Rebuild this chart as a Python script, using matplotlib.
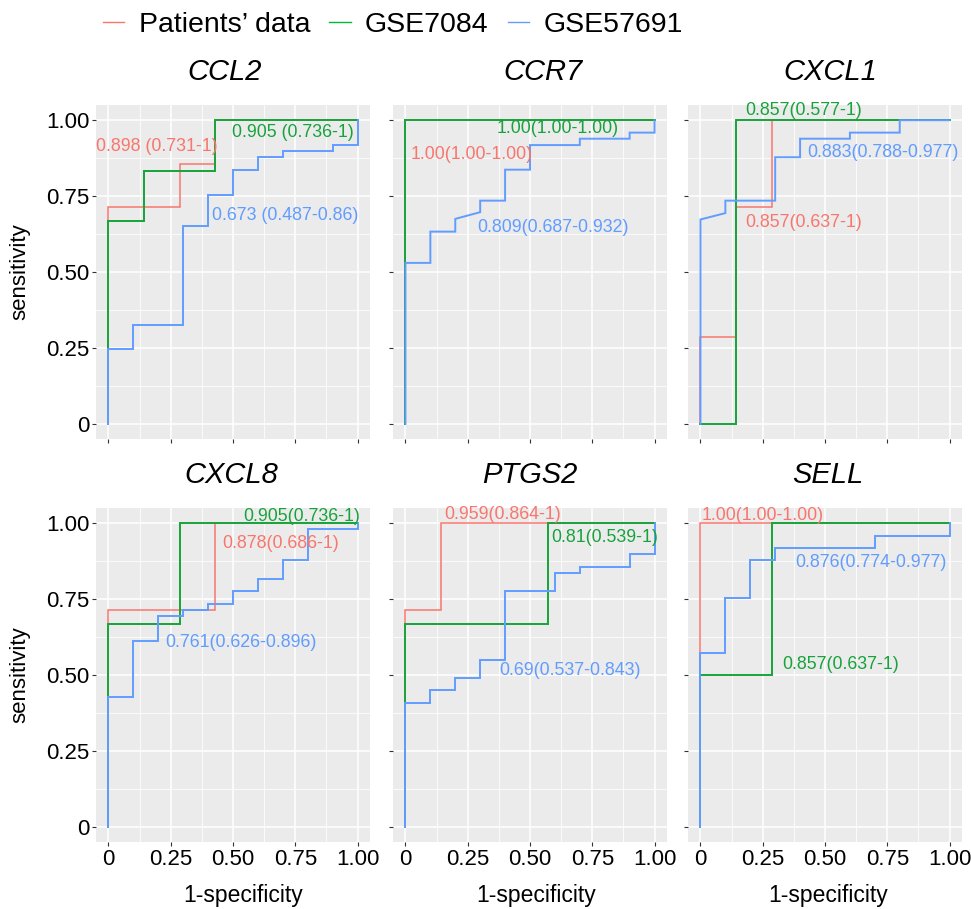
import matplotlib
matplotlib.use('Agg')
import matplotlib.pyplot as plt
from matplotlib.lines import Line2D
from matplotlib.ticker import FixedLocator

plt.rcParams['font.family'] = ['Liberation Sans', 'DejaVu Sans']

# --- data (ROC vertices: fpr, tpr) ---
genes = ['CCL2', 'CCR7', 'CXCL1', 'CXCL8', 'PTGS2', 'SELL']
datasets = ['Patients\u2019 data', 'GSE7084', 'GSE57691']

ccl2_patients = ([0, 0, 0.286, 0.286, 0.429, 0.429, 1], [0, 0.714, 0.714, 0.857, 0.857, 1, 1])
ccl2_gse7084 = ([0, 0, 0.143, 0.143, 0.429, 0.429, 1], [0, 0.667, 0.667, 0.833, 0.833, 1, 1])
ccl2_gse57691 = ([0, 0, 0.1, 0.1, 0.3, 0.3, 0.4, 0.4, 0.5, 0.5, 0.6, 0.6, 0.7, 0.7, 0.9, 0.9, 1, 1],
                 [0, 0.245, 0.245, 0.327, 0.327, 0.653, 0.653, 0.755, 0.755, 0.837, 0.837, 0.878, 0.878,
                  0.898, 0.898, 0.918, 0.918, 1])

ccr7_patients = ([0, 0, 1], [0, 1, 1])
ccr7_gse7084 = ([0, 0, 1], [0, 1, 1])
ccr7_gse57691 = ([0, 0, 0.1, 0.1, 0.2, 0.2, 0.3, 0.3, 0.4, 0.4, 0.5, 0.5, 0.7, 0.7, 0.9, 0.9, 1, 1],
                 [0, 0.53, 0.53, 0.633, 0.633, 0.675, 0.697, 0.735, 0.735, 0.837, 0.837, 0.918, 0.918,
                  0.939, 0.939, 0.959, 0.959, 1])

cxcl1_patients = ([0, 0, 0.143, 0.143, 0.286, 0.286, 1], [0, 0.286, 0.286, 0.714, 0.714, 1, 1])
cxcl1_gse7084 = ([0, 0.143, 0.143, 1], [0, 0, 1, 1])
cxcl1_gse57691 = ([0, 0, 0.1, 0.1, 0.3, 0.3, 0.4, 0.4, 0.6, 0.6, 0.8, 0.8, 1],
                  [0, 0.673, 0.694, 0.735, 0.735, 0.878, 0.878, 0.939, 0.939, 0.959, 0.959, 1, 1])

cxcl8_patients = ([0, 0, 0.429, 0.429, 1], [0, 0.714, 0.714, 1, 1])
cxcl8_gse7084 = ([0, 0, 0.286, 0.286, 1], [0, 0.667, 0.667, 1, 1])
cxcl8_gse57691 = ([0, 0, 0.1, 0.1, 0.2, 0.2, 0.3, 0.3, 0.4, 0.4, 0.5, 0.5, 0.6, 0.6, 0.7, 0.7, 0.8, 0.8, 1, 1],
                  [0, 0.429, 0.429, 0.612, 0.612, 0.694, 0.694, 0.714, 0.714, 0.735, 0.735, 0.776, 0.776,
                   0.816, 0.816, 0.878, 0.878, 0.98, 0.98, 1])

ptgs2_patients = ([0, 0, 0.143, 0.143, 1], [0, 0.714, 0.714, 1, 1])
ptgs2_gse7084 = ([0, 0, 0.571, 0.571, 1], [0, 0.667, 0.667, 1, 1])
ptgs2_gse57691 = ([0, 0, 0.1, 0.1, 0.2, 0.2, 0.3, 0.3, 0.4, 0.4, 0.6, 0.6, 0.7, 0.7, 0.9, 0.9, 1, 1],
                  [0, 0.408, 0.408, 0.449, 0.449, 0.49, 0.49, 0.551, 0.551, 0.776, 0.776, 0.837, 0.837,
                   0.857, 0.857, 0.898, 0.898, 1])

sell_patients = ([0, 0, 1], [0, 1, 1])
sell_gse7084 = ([0, 0, 0.286, 0.286, 1], [0, 0.5, 0.5, 1, 1])
sell_gse57691 = ([0, 0, 0.1, 0.1, 0.2, 0.2, 0.3, 0.3, 0.7, 0.7, 1, 1],
                 [0, 0.571, 0.571, 0.755, 0.755, 0.878, 0.878, 0.918, 0.918, 0.959, 0.959, 1])

# AUC (95% CI) labels, in dataset order
patients_auc = ['0.898 (0.731-1)', '1.00(1.00-1.00)', '0.857(0.637-1)',
                '0.878(0.686-1)', '0.959(0.864-1)', '1.00(1.00-1.00)']
gse7084_auc = ['0.905 (0.736-1)', '1.00(1.00-1.00)', '0.857(0.577-1)',
               '0.905(0.736-1)', '0.81(0.539-1)', '0.857(0.637-1)']
gse57691_auc = ['0.673 (0.487-0.86)', '0.809(0.687-0.932)', '0.883(0.788-0.977)',
                '0.761(0.626-0.896)', '0.69(0.537-0.843)', '0.876(0.774-0.977)']

tick_values = [0, 0.25, 0.5, 0.75, 1.0]
tick_labels = ['0', '0.25', '0.50', '0.75', '1.00']

curves = {
    'CCL2': [ccl2_patients, ccl2_gse7084, ccl2_gse57691],
    'CCR7': [ccr7_patients, ccr7_gse7084, ccr7_gse57691],
    'CXCL1': [cxcl1_patients, cxcl1_gse7084, cxcl1_gse57691],
    'CXCL8': [cxcl8_patients, cxcl8_gse7084, cxcl8_gse57691],
    'PTGS2': [ptgs2_patients, ptgs2_gse7084, ptgs2_gse57691],
    'SELL': [sell_patients, sell_gse7084, sell_gse57691],
}

# --- styling / layout ---
LINE_COLORS = ['#F8766D', '#17A33B', '#619CFF']
LEGEND_COLORS = ['#F8766D', '#00BA38', '#619CFF']
PANEL_BG = '#EBEBEB'
W, H = 971, 909

# label anchor (left edge, vertical centre) in data units, per gene / dataset
label_pos = {
    'CCL2': [(-0.052, 0.912), (0.494, 0.961), (0.417, 0.686)],
    'CCR7': [(0.02, 0.887), (0.366, 0.972), (0.29, 0.648)],
    'CXCL1': [(0.18, 0.664), (0.18, 1.031), (0.43, 0.893)],
    'CXCL8': [(0.458, 0.934), (0.541, 1.022), (0.23, 0.608)],
    'PTGS2': [(0.157, 1.03), (0.587, 0.954), (0.377, 0.515)],
    'SELL': [(0.003, 1.024), (0.328, 0.533), (0.381, 0.870)],
}
col_left = [96, 393, 688]
col_width = 274
row_top = [105, 508]
row_height = 334
title_x = [[225, 543, 830], [231, 530, 828]]
title_baseline = [80, 483]
xlabel_x = [243, 536, 828]


def style_panel(ax, show_x, show_y):
    ax.set_facecolor(PANEL_BG)
    for s in ax.spines.values():
        s.set_visible(False)
    ax.set_xlim(-0.05, 1.05)
    ax.set_ylim(-0.05, 1.05)
    ax.xaxis.set_major_locator(FixedLocator(tick_values))
    ax.yaxis.set_major_locator(FixedLocator(tick_values))
    ax.xaxis.set_minor_locator(FixedLocator([0.125, 0.375, 0.625, 0.875]))
    ax.yaxis.set_minor_locator(FixedLocator([0.125, 0.375, 0.625, 0.875]))
    ax.set_xticklabels(tick_labels if show_x else [])
    ax.set_yticklabels(tick_labels if show_y else [])
    ax.grid(which='major', color='white', linewidth=1.1)
    ax.grid(which='minor', color='white', linewidth=0.55)
    ax.set_axisbelow(True)
    ax.tick_params(which='major', length=2.7, width=0.8, color='#333333',
                   labelsize=16, labelcolor='black', pad=2)
    ax.tick_params(which='minor', length=0)


def main():
    fig = plt.figure(figsize=(W / 100, H / 100), dpi=100)

    for i, gene in enumerate(genes):
        r, c = divmod(i, 3)
        rect = [col_left[c] / W, 1 - (row_top[r] + row_height) / H, col_width / W, row_height / H]
        ax = fig.add_axes(rect)
        style_panel(ax, show_x=(r == 1), show_y=(c == 0))

        aucs = [patients_auc[i], gse7084_auc[i], gse57691_auc[i]]
        for k, (fpr, tpr) in enumerate(curves[gene]):
            ax.plot(fpr, tpr, color=LINE_COLORS[k], linewidth=1.4 if k else 1.1, solid_joinstyle='miter')
            lx, ly = label_pos[gene][k]
            ax.text(lx, ly, aucs[k], color=LINE_COLORS[k], fontsize=12.8,
                    ha='left', va='center', clip_on=False)

        fig.text(title_x[r][c] / W, 1 - title_baseline[r] / H, gene, fontsize=21,
                 style='italic', ha='center', va='baseline')
        if r == 1:
            # the reference crops this label at the bottom edge; keep it fully inside
            fig.text(xlabel_x[c] / W, 1 - 902 / H, '1-specificity', fontsize=16.5,
                     ha='center', va='baseline')
        if c == 0:
            centre = row_top[r] + row_height / 2
            fig.text(20 / W, 1 - centre / H, 'sensitivity', fontsize=16,
                     rotation=90, ha='center', va='center')

    handles = [Line2D([], [], color=col, linewidth=1.0) for col in LEGEND_COLORS]
    fig.legend(handles, datasets, loc='center left', bbox_to_anchor=(103 / W, 1 - 25 / H),
               ncol=3, frameon=False, fontsize=20.5, handlelength=0.75, handletextpad=0.5,
               columnspacing=0.68, borderpad=0, borderaxespad=0)

    fig.savefig('out.png', dpi=100)
    print('Saved out.png')


if __name__ == '__main__':
    main()
